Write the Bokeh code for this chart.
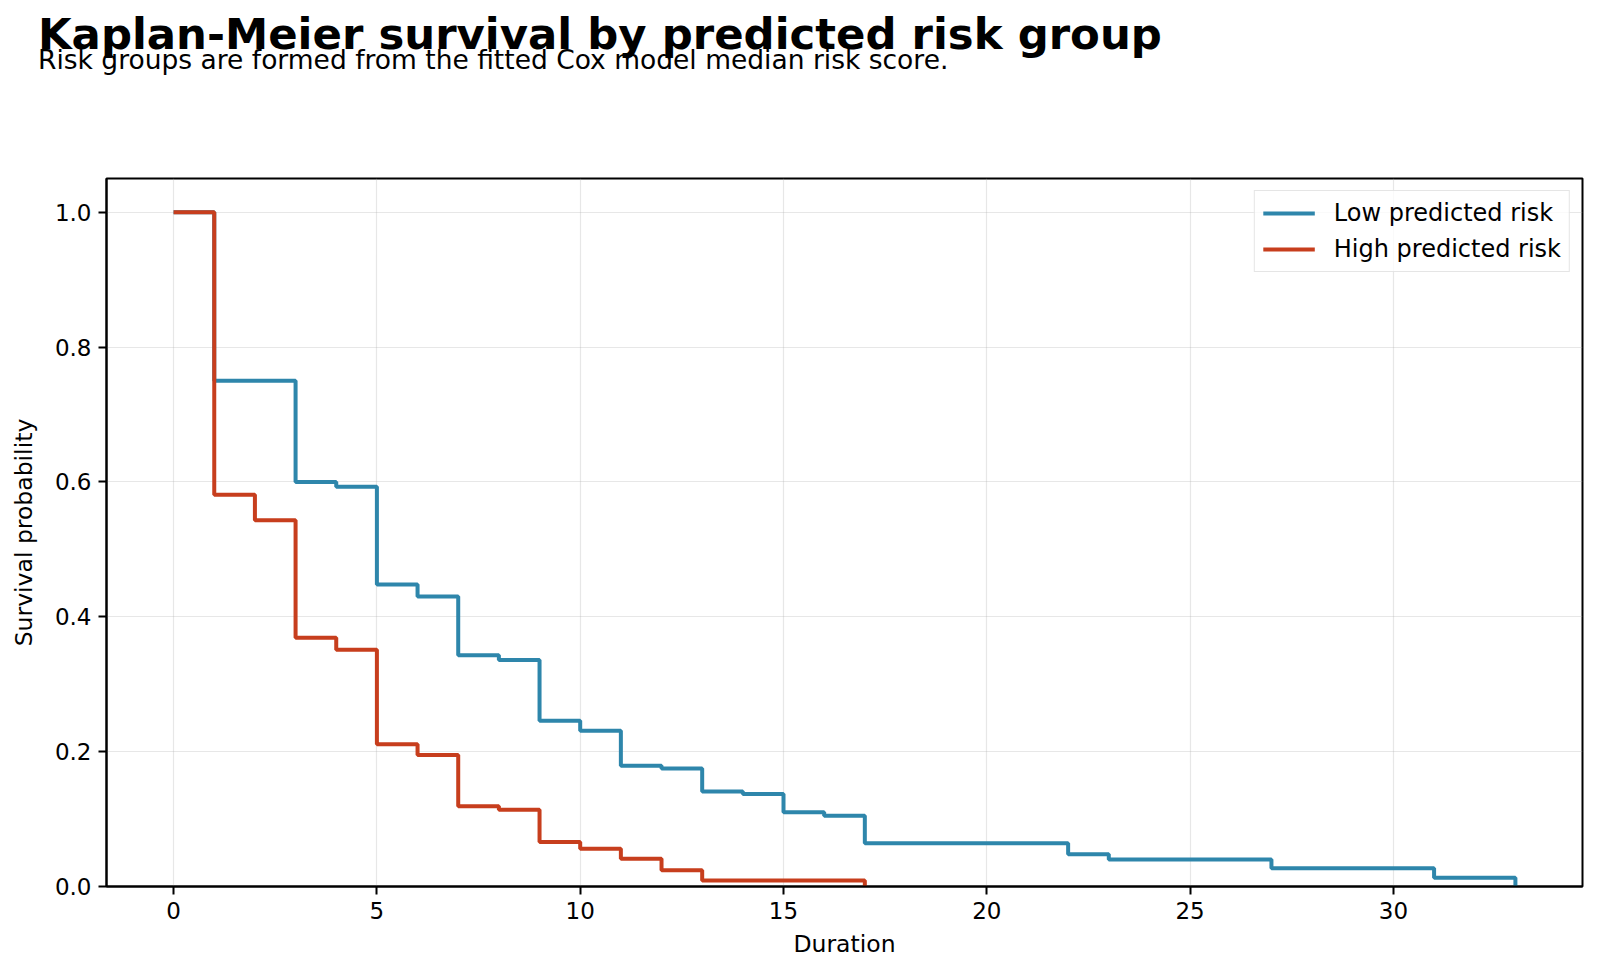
from bokeh.plotting import figure
from bokeh.models import FixedTicker, PrintfTickFormatter, Range1d, Div
from bokeh.layouts import column
from bokeh.embed import file_html
from bokeh.resources import INLINE

# Kaplan-Meier step data
low_t = [0, 1, 3, 4, 5, 6, 7, 8, 9, 10, 11, 12, 13, 14, 15, 16, 17, 22, 23, 27, 31, 33]
low_s = [1.0, 0.75, 0.600, 0.593, 0.448, 0.430, 0.343, 0.336, 0.246, 0.231, 0.179,
         0.175, 0.141, 0.137, 0.110, 0.105, 0.064, 0.048, 0.040, 0.027, 0.013, 0.0]
high_t = [0, 1, 2, 3, 4, 5, 6, 7, 8, 9, 10, 11, 12, 13, 17]
high_s = [1.0, 0.581, 0.543, 0.369, 0.351, 0.211, 0.195, 0.119, 0.114, 0.066,
          0.056, 0.041, 0.024, 0.009, 0.0]

x_ticks = [0, 5, 10, 15, 20, 25, 30]
y_ticks = [0.0, 0.2, 0.4, 0.6, 0.8, 1.0]

title_text = "Kaplan-Meier survival by predicted risk group"
subtitle_text = "Risk groups are formed from the fitted Cox model median risk score."
low_label = "Low predicted risk"
high_label = "High predicted risk"

FONT = "DejaVu Sans"
BLUE = "#2E86AB"
RED = "#C73E1D"

W, H = 1600, 979
HEAD = 100  # height of the heading block above the plot canvas

header = Div(
    text=(
        '<div style="position:relative;width:1600px;height:%dpx;margin:0;padding:0;">'
        '<div style="position:absolute;left:38px;top:12.5px;white-space:nowrap;'
        'font-family:\'DejaVu Sans\';font-size:43.4px;font-weight:bold;line-height:43.4px;color:black;">%s</div>'
        '<div style="position:absolute;left:38px;top:47px;white-space:nowrap;'
        'font-family:\'DejaVu Sans\';font-size:26.5px;font-weight:normal;line-height:26.5px;color:black;">%s</div>'
        '</div>'
    ) % (HEAD, title_text, subtitle_text),
    width=W, height=HEAD, margin=0,
)

p = figure(width=W, height=H - HEAD, output_backend="svg", toolbar_location=None,
           x_range=Range1d(-1.65, 34.65), y_range=Range1d(0, 1.05),
           min_border_left=106, min_border_right=18, min_border_top=178 - HEAD,
           min_border_bottom=93, margin=0)
p.title = None
p.background_fill_color = "white"
p.border_fill_color = "white"
p.outline_line_color = "black"
p.outline_line_width = 2

p.step(low_t, low_s, mode="after", line_color=BLUE, line_width=4, legend_label=low_label)
p.step(high_t, high_s, mode="after", line_color=RED, line_width=4, legend_label=high_label)

for ax in (p.xaxis[0], p.yaxis[0]):
    ax.axis_line_color = "black"
    ax.axis_line_width = 2
    ax.major_tick_line_color = "black"
    ax.major_tick_line_width = 2
    ax.major_tick_out = 8
    ax.major_tick_in = 0
    ax.minor_tick_line_color = None
    ax.major_label_text_font = FONT
    ax.major_label_text_font_size = "23px"
    ax.major_label_text_color = "black"
    ax.major_label_standoff = 7
    ax.axis_label_text_font = FONT
    ax.axis_label_text_font_size = "23.5px"
    ax.axis_label_text_font_style = "normal"
    ax.axis_label_text_color = "black"

p.xaxis.axis_label = "Duration"
p.yaxis.axis_label = "Survival probability"
p.xaxis.axis_label_standoff = 8
p.yaxis.axis_label_standoff = 14
p.xaxis.ticker = FixedTicker(ticks=x_ticks)
p.yaxis.ticker = FixedTicker(ticks=y_ticks)
p.yaxis.formatter = PrintfTickFormatter(format="%.1f")

p.grid.grid_line_color = "#b0b0b0"
p.grid.grid_line_alpha = 0.3
p.grid.grid_line_width = 1.2

leg = p.legend[0]
leg.location = "top_right"
leg.margin = 12
leg.padding = 8
leg.spacing = 8
leg.glyph_width = 52
leg.glyph_height = 28
leg.label_height = 28
leg.label_standoff = 19
leg.label_text_font = FONT
leg.label_text_font_size = "24px"
leg.label_text_color = "black"
leg.border_line_color = "#cccccc"
leg.border_line_width = 1.5
leg.background_fill_color = "white"
leg.background_fill_alpha = 0.8

layout = column(header, p, spacing=0, margin=0)
open("out.html", "w").write(file_html(layout, INLINE))
